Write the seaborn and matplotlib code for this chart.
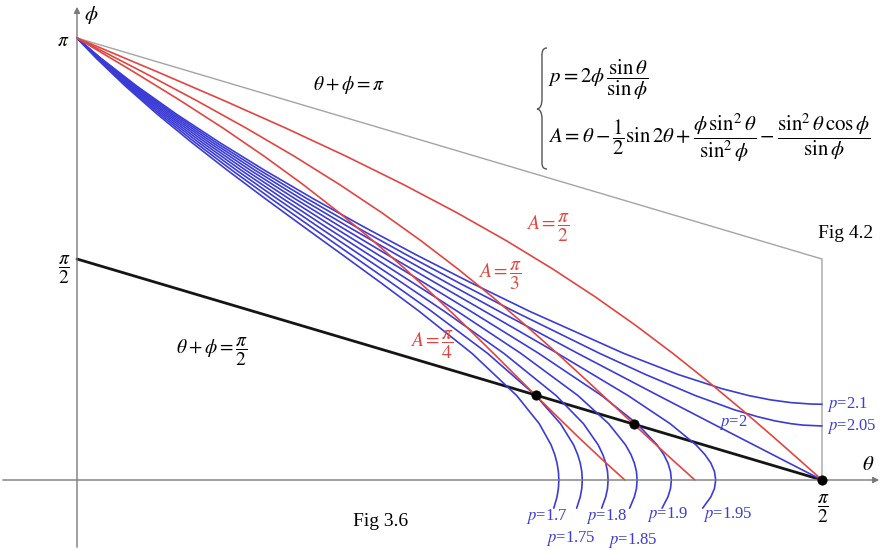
import numpy as np
import matplotlib
matplotlib.use("Agg")
import matplotlib.pyplot as plt
import seaborn as sns
from matplotlib.path import Path
from matplotlib.patches import PathPatch

# ─────────────────────────────────────────────
# Data (theta, phi in radians)
# ─────────────────────────────────────────────
# blue family p = 2 phi sin(theta)/sin(phi), p < 2 (they dip below the axis)
P_LOW_LABELS = ["1.7", "1.75", "1.8", "1.85", "1.9", "1.95"]
PHI_P_LOW = [3.1416, 3.0, 2.8, 2.6, 2.4, 2.2, 2.0, 1.8, 1.6, 1.4, 1.2, 0.9, 0.6, 0.4,
             0.25, 0.18, 0.12, 0.06, 0.0, -0.06, -0.12, -0.2]
THETA_P170 = [0, 0.0400, 0.1019, 0.1693, 0.2416, 0.3177, 0.3968, 0.4779, 0.5599, 0.6414, 0.7211,
              0.8328, 0.9271, 0.9747, 0.9995, 1.0074, 1.0121, 1.0150, 1.0160, 1.0150, 1.0121, 1.0053]
THETA_P175 = [0, 0.0412, 0.1049, 0.1744, 0.2488, 0.3274, 0.4092, 0.4932, 0.5783, 0.6635, 0.7472,
              0.8657, 0.9674, 1.0195, 1.0470, 1.0557, 1.0611, 1.0643, 1.0654, 1.0643, 1.0611, 1.0535]
THETA_P180 = [0, 0.0424, 0.1079, 0.1794, 0.2561, 0.3371, 0.4216, 0.5086, 0.5971, 0.6861, 0.7740,
              0.9000, 1.0102, 1.0679, 1.0988, 1.1088, 1.1148, 1.1186, 1.1198, 1.1186, 1.1148, 1.1062]
THETA_P185 = [0, 0.0435, 0.1109, 0.1844, 0.2634, 0.3469, 0.4341, 0.5241, 0.6162, 0.7090, 0.8016,
              0.9358, 1.0563, 1.1210, 1.1565, 1.1681, 1.1752, 1.1796, 1.1810, 1.1796, 1.1752, 1.1652]
THETA_P190 = [0, 0.0447, 0.1139, 0.1895, 0.2707, 0.3566, 0.4466, 0.5398, 0.6354, 0.7325, 0.8299,
              0.9735, 1.1062, 1.1807, 1.2230, 1.2373, 1.2460, 1.2514, 1.2532, 1.2514, 1.2460, 1.2336]
THETA_P195 = [0, 0.0459, 0.1169, 0.1945, 0.2780, 0.3665, 0.4593, 0.5557, 0.6550, 0.7564, 0.8591,
              1.0133, 1.1619, 1.2507, 1.3050, 1.3241, 1.3365, 1.3441, 1.3467, 1.3441, 1.3365, 1.3192]

# p = 2 runs into (pi/2, 0)
PHI_P200 = [3.1416, 3.0, 2.8, 2.6, 2.4, 2.2, 2.0, 1.8, 1.6, 1.4, 1.2, 0.9, 0.6, 0.4,
            0.25, 0.18, 0.12, 0.06, 0.0]
THETA_P200 = [0, 0.0471, 0.1199, 0.1996, 0.2853, 0.3763, 0.4720, 0.5717, 0.6749, 0.7809, 0.8894,
              1.0559, 1.2258, 1.3403, 1.4266, 1.4669, 1.5015, 1.5362, 1.5708]

# p > 2 flatten out at theta = pi/2
PHI_P205 = [3.1416, 3.0, 2.8, 2.6, 2.4, 2.2, 2.0, 1.8, 1.6, 1.4, 1.2, 0.9, 0.75, 0.6,
            0.5, 0.45, 0.42, 0.40, 0.39, 0.384]
THETA_P205 = [0, 0.0482, 0.1229, 0.2047, 0.2926, 0.3862, 0.4848, 0.5878, 0.6951, 0.8060, 0.9209,
              1.1020, 1.1987, 1.3039, 1.3852, 1.4348, 1.4721, 1.5059, 1.5313, 1.5708]
PHI_P210 = [3.1416, 3.0, 2.8, 2.6, 2.4, 2.2, 2.0, 1.8, 1.6, 1.4, 1.2, 0.9, 0.75, 0.65,
            0.6, 0.57, 0.55, 0.54, 0.5383]
THETA_P210 = [0, 0.0494, 0.1260, 0.2097, 0.3000, 0.3962, 0.4977, 0.6042, 0.7154, 0.8317, 0.9536,
              1.1527, 1.2673, 1.3588, 1.4165, 1.4617, 1.5055, 1.5471, 1.5708]

# red family A = const
PHI_A = [3.1416, 2.9, 2.7, 2.5, 2.3, 2.1, 1.9, 1.7, 1.5, 1.3, 1.1, 0.9, 0.7, 0.5, 0.3, 0.15, 0.0]
THETA_A_HALF = [0, 0.1701, 0.3078, 0.4410, 0.5682, 0.6883, 0.8008, 0.9057, 1.0030, 1.0934, 1.1775,
                1.2563, 1.3306, 1.4017, 1.4703, 1.5208, 1.5708]
THETA_A_THIRD = [0, 0.1387, 0.2503, 0.3573, 0.4586, 0.5536, 0.6425, 0.7255, 0.8031, 0.8763, 0.9457,
                 1.0124, 1.0770, 1.1409, 1.2048, 1.2533, 1.3027]
THETA_A_QUARTER = [0, 0.1200, 0.2164, 0.3085, 0.3952, 0.4767, 0.5529, 0.6244, 0.6919, 0.7561, 0.8179,
                   0.8782, 0.9375, 0.9976, 1.0585, 1.1060, 1.1550]

# straight guide lines
THETA_UPPER = [0, 1.5708, 1.5708]      # theta + phi = pi, then down to the axis
PHI_UPPER = [3.1416, 1.5708, 0]
THETA_LOWER = [0, 1.5708]              # theta + phi = pi/2
PHI_LOWER = [1.5708, 0]

# marked intersections
DOT_THETA = [0.968, 1.174, 1.5708]
DOT_PHI = [0.603, 0.397, 0.0]

# ─────────────────────────────────────────────
# Style
# ─────────────────────────────────────────────
W, H = 883, 550
X0, Y0 = 77, 480                 # pixel position of the origin
SX = 745 / (np.pi / 2)           # px per rad, horizontal
SY = 442 / np.pi                 # px per rad, vertical

BLUE = "#3b3bd6"
RED = "#e2453f"
GREY = "#a4a4a4"
AXIS = "#7a7a7a"

sns.set_theme(style="white")
plt.rcParams["font.family"] = ["Liberation Serif", "DejaVu Serif"]
plt.rcParams["mathtext.fontset"] = "stix"

fig = plt.figure(figsize=(W / 100, H / 100), dpi=100)
ax = fig.add_axes([0, 0, 1, 1])
ax.set_xlim(-X0 / SX, (W - X0) / SX)
ax.set_ylim((Y0 - H) / SY, Y0 / SY)
ax.axis("off")


def px(x, y):
    """pixel position -> axes fraction"""
    return x / W, 1 - y / H


def put(x, y, s, size=13, color="black", ha="center"):
    ax.text(*px(x, y), s, transform=ax.transAxes, ha=ha, va="center",
            fontsize=size, color=color)


# axes with arrows
ax.annotate("", xy=px(882, Y0), xytext=px(0, Y0), xycoords="axes fraction",
            arrowprops=dict(arrowstyle="-|>", color=AXIS, lw=1.0, mutation_scale=9))
ax.annotate("", xy=px(X0, 4), xytext=px(X0, H), xycoords="axes fraction",
            arrowprops=dict(arrowstyle="-|>", color=AXIS, lw=1.0, mutation_scale=9))

# guide lines
sns.lineplot(x=THETA_UPPER, y=PHI_UPPER, sort=False, estimator=None, ax=ax,
             color=GREY, lw=1.0)
sns.lineplot(x=THETA_LOWER, y=PHI_LOWER, sort=False, estimator=None, ax=ax,
             color="#151515", lw=2.0)

# blue curves
for th in [THETA_P170, THETA_P175, THETA_P180, THETA_P185, THETA_P190, THETA_P195]:
    sns.lineplot(x=th, y=PHI_P_LOW, sort=False, estimator=None, ax=ax, color=BLUE, lw=1.2)
for th, ph in [(THETA_P200, PHI_P200), (THETA_P205, PHI_P205), (THETA_P210, PHI_P210)]:
    sns.lineplot(x=th, y=ph, sort=False, estimator=None, ax=ax, color=BLUE, lw=1.2)

# red curves
for th in [THETA_A_HALF, THETA_A_THIRD, THETA_A_QUARTER]:
    sns.lineplot(x=th, y=PHI_A, sort=False, estimator=None, ax=ax, color=RED, lw=1.2)

sns.scatterplot(x=DOT_THETA, y=DOT_PHI, ax=ax, color="black", s=45, zorder=5,
                edgecolor="black")

# ─────────────────────────────────────────────
# Text
# ─────────────────────────────────────────────
put(91, 15, r"$\phi$", size=15)
put(868, 466, r"$\theta$", size=15)
put(63, 42, r"$\pi$", size=14)
put(64, 270, r"$\dfrac{\pi}{2}$", size=14)
put(823, 509, r"$\dfrac{\pi}{2}$", size=14)

put(349, 85, r"$\theta+\phi=\pi$", size=14)
put(212, 352, r"$\theta+\phi=\dfrac{\pi}{2}$", size=14)
put(846, 233, "Fig 4.2", size=14)
put(381, 521, "Fig 3.6", size=14)

put(548, 228, r"$A=\dfrac{\pi}{2}$", size=14, color=RED)
put(500, 276, r"$A=\dfrac{\pi}{3}$", size=14, color=RED)
put(432, 345, r"$A=\dfrac{\pi}{4}$", size=14, color=RED)

for lab, (x, y) in zip(P_LOW_LABELS, [(547, 517), (571, 539), (607, 517),
                                       (633, 540), (668, 514), (728, 514)]):
    put(x, y, r"$p$=" + lab, size=12, color=BLUE)
put(733, 423, r"$p$=2", size=12, color=BLUE)
put(827, 426, r"$p$=2.05", size=12, color=BLUE, ha="left")
put(827, 404, r"$p$=2.1", size=12, color=BLUE, ha="left")

# formula block with a thin left brace
put(548, 80, r"$p=2\phi\,\dfrac{\sin\theta}{\sin\phi}$", size=15, ha="left")
put(548, 138, r"$A=\theta-\dfrac{1}{2}\sin 2\theta+\dfrac{\phi\,\sin^2\theta}{\sin^2\phi}-\dfrac{\sin^2\theta\,\cos\phi}{\sin\phi}$",
    size=15, ha="left")

verts = [(547, 48), (541, 48), (542, 55), (542, 61), (542, 99),
         (542, 105), (540, 109), (537, 109),
         (540, 109), (542, 113), (542, 119), (542, 157),
         (542, 163), (541, 169), (547, 169)]
codes = [Path.MOVETO, Path.CURVE4, Path.CURVE4, Path.CURVE4, Path.LINETO,
         Path.CURVE4, Path.CURVE4, Path.CURVE4,
         Path.CURVE4, Path.CURVE4, Path.CURVE4, Path.LINETO,
         Path.CURVE4, Path.CURVE4, Path.CURVE4]
brace = Path([px(x, y) for x, y in verts], codes)
ax.add_patch(PathPatch(brace, transform=ax.transAxes, fill=False, color="#555555", lw=1.0))

fig.savefig("out.png", dpi=100)
